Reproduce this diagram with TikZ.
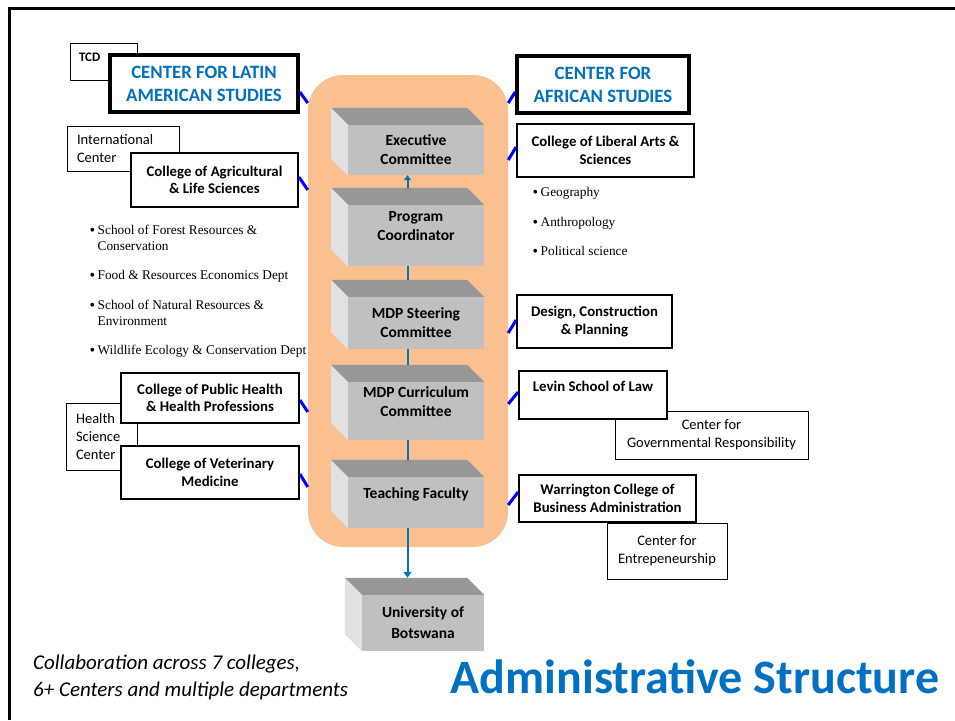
\documentclass[tikz,border=0pt]{standalone}
\usepackage{fontspec}
\setmainfont{Carlito}
\newfontfamily\deptfont{Liberation Serif}
\usetikzlibrary{arrows.meta,positioning}

\definecolor{uflblue}{HTML}{0070C0}
\definecolor{teamfill}{HTML}{FAC090}
\definecolor{slabtop}{HTML}{979797}
\definecolor{slabfront}{HTML}{C0C0C0}
\definecolor{slabside}{HTML}{E1E1E1}

\newcommand{\deptitem}{\makebox[8pt][l]{\raisebox{-1pt}{\fontsize{16}{16}\selectfont\textbullet}}}

\tikzset{
  slab/.style={fill=slabfront, minimum width=136pt, inner sep=2pt, align=center,
    font=\bfseries\fontsize{15.5}{19}\selectfont},
  college/.style={draw, line width=1.8pt, fill=white, align=center, inner sep=0pt,
    font=\bfseries\fontsize{14.8}{17.5}\selectfont},
  hub/.style={college, line width=3.6pt, text=uflblue, font=\bfseries\fontsize{18.8}{23}\selectfont},
  unit/.style={draw, line width=0.7pt, fill=white, inner ysep=0pt, inner xsep=10pt,
    font=\fontsize{14.5}{18}\selectfont},
  dept/.style={inner sep=0pt, align=left, font=\deptfont\fontsize{13.3}{16}\selectfont},
  link/.style={blue, line width=3pt},
  flow/.style={uflblue, line width=2pt},
}

\begin{document}
\begin{tikzpicture}[x=1pt,y=-1pt]
\useasboundingbox (0,0) rectangle (955,720);

% slide frame
\draw[line width=3pt] (9,720) -- (9,8) -- (955,8);

% program team
\node[fill=teamfill, rounded corners=35pt, minimum width=200pt, minimum height=472pt, inner sep=0pt] (team) at (408,311) {};

\node[slab, minimum height=50pt] (exec) at (416,150) {Executive\\Committee};
\node[slab, minimum height=61pt] (prog) at (416,235.5) {Program\\Coordinator\\\mbox{}};
\node[slab, minimum height=52pt] (steer) at (416,323) {MDP Steering\\Committee};
\node[slab, minimum height=58pt] (curr) at (416,411) {MDP Curriculum\\Committee\\\mbox{}};
\node[slab, minimum height=51pt] (teach) at (416,502.5) {Teaching Faculty\\\mbox{}};
\node[slab, minimum width=122pt, minimum height=56pt, font=\bfseries\fontsize{15.5}{21}\selectfont] (ub) at (423,623) {University of\\Botswana};

% bevel faces
\foreach \s in {exec,prog,steer,curr,teach,ub} {
  \fill[slabtop] (\s.north west) -- ++(-17,-17) -- ([shift={(-17,-17)}]\s.north east) -- (\s.north east) -- cycle;
  \fill[slabside] (\s.north west) -- ++(-17,-17) -- ([shift={(-17,-17)}]\s.south west) -- (\s.south west) -- cycle;
}

\draw[flow,-{Triangle[width=7pt,length=5pt]}] ([shift={(-8.5,-17)}]prog.north) -- ([xshift=-8.5pt]exec.south);
\draw[flow] ([xshift=-8.5pt]prog.south) -- ([shift={(-8.5,-17)}]steer.north);
\draw[flow] ([xshift=-8.5pt]steer.south) -- ([shift={(-8.5,-17)}]curr.north);
\draw[flow] ([xshift=-8.5pt]curr.south) -- ([shift={(-8.5,-17)}]teach.north);
\draw[flow,-{Triangle[width=8pt,length=6pt]}] ([xshift=-8.5pt]teach.south) -- ([xshift=-8.5pt,yshift=17pt]teach.south |- ub.north);

% left side
\node[unit, align=left, text width=49pt, inner xsep=9pt, minimum height=37pt, font=\bfseries\fontsize{13}{15}\selectfont] (tcd) at (103.5,61.5) {TCD\\[-6pt]\mbox{}};
\node[hub, minimum width=188pt, minimum height=57pt] (clas) at (204,83.5) {CENTER FOR LATIN\\AMERICAN STUDIES};

\node[unit, align=left, text width=92pt, minimum height=45pt] (intl) at (123,148.5) {International\\Center};
\node[college, minimum width=167pt, minimum height=54pt] (agri) at (214.5,180) {College of Agricultural\\\& Life Sciences};

\node[dept, anchor=north west] (agrdepts) at (89.5,224.5) {\deptitem School of Forest Resources \&\\\hspace*{8pt}Conservation\\[13.5pt]
  \deptitem Food \& Resources Economics Dept\\[13.5pt]
  \deptitem School of Natural Resources \&\\\hspace*{8pt}Environment\\[13.5pt]
  \deptitem Wildlife Ecology \& Conservation Dept};

\node[unit, align=left, text width=51pt, minimum height=67pt] (hsc) at (101.5,436.5) {Health\\Science\\Center};
\node[college, minimum width=178pt, minimum height=50pt] (pub) at (210,398) {College of Public Health\\\& Health Professions};
\node[college, minimum width=178pt, minimum height=53pt] (vet) at (210,472.5) {College of Veterinary\\Medicine};

% right side
\node[hub, minimum width=172pt, minimum height=57pt] (cas) at (603,84.5) {CENTER FOR\\AFRICAN STUDIES};
\node[college, minimum width=177pt, minimum height=53pt] (cla) at (605.5,150.5) {College of Liberal Arts \&\\Sciences};

\node[dept, anchor=north west] (cladepts) at (532.5,187.5) {\deptitem Geography\\[13.5pt]
  \deptitem Anthropology\\[13.5pt]
  \deptitem Political science};

\node[college, minimum width=155pt, minimum height=53pt] (dcp) at (594.5,321.5) {Design, Construction\\\& Planning};

\node[unit, align=center, minimum width=193pt, minimum height=48pt] (cgr) at (711.5,435) {Center for\\Governmental Responsibility};
\node[college, minimum width=148pt, minimum height=48pt] (law) at (593,395) {Levin School of Law\\\mbox{}};

\node[unit, align=center, minimum width=120pt, minimum height=56pt] (entre) at (667,551) {Center for\\Entrepeneurship};
\node[college, minimum width=177pt, minimum height=47pt] (wcba) at (607.5,498.5) {Warrington College of\\Business Administration};

% ties to the team
\foreach \b/\s/\e in {clas/-8.5/-19.5, agri/3/-10, pub/-2/-14, vet/-1.5/-14.5}
  \draw[link] ([yshift=\s pt]\b.east) -- ([yshift=\e pt]\b.east -| team.west);
\foreach \b/\s/\e in {cas/-7.5/-18.5, cla/3.5/-9.5, dcp/1.5/-11.5, law/3/-9, wcba/6.5/-6.5}
  \draw[link] ([yshift=\s pt]\b.west) -- ([yshift=\e pt]\b.west -| team.east);

% footer
\node[anchor=north west, align=left, inner sep=0pt, font=\itshape\fontsize{21}{27}\selectfont] (reach) at (33,655) {Collaboration across 7 colleges,\\6+ Centers and multiple departments};
\node[anchor=base, inner sep=0pt, text=uflblue, font=\bfseries\fontsize{48}{52}\selectfont] (title) at (695,693) {Administrative Structure};
\end{tikzpicture}
\end{document}
